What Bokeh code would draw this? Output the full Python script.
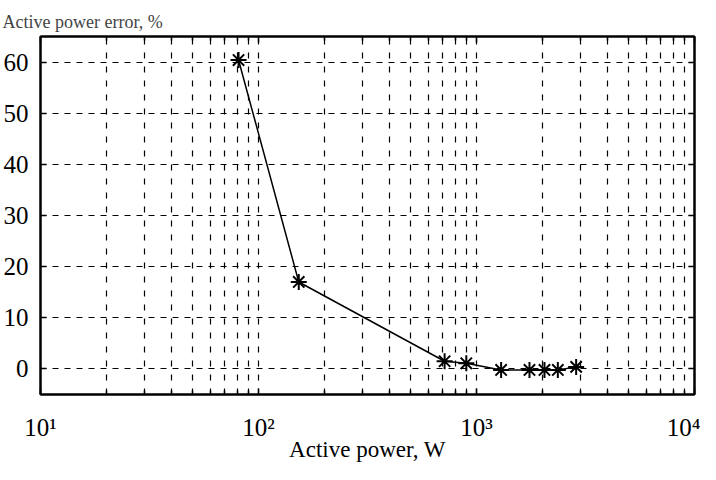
from bokeh.plotting import figure
from bokeh.models import FixedTicker, LinearAxis, LogAxis, Range1d
from bokeh.embed import file_html
from bokeh.resources import INLINE

# data
power_w = [81, 153, 714, 898, 1297, 1750, 2050, 2361, 2865]
error_pct = [60.4, 17.0, 1.5, 1.1, -0.2, -0.2, -0.2, -0.2, 0.4]

x_major = [10, 100, 1000, 10000]
x_minor = [m * d for d in (10, 100, 1000) for m in range(2, 10)]
x_labels = {10: "10¹", 100: "10²", 1000: "10³", 10000: "10⁴"}
y_major = [0, 10, 20, 30, 40, 50, 60]

FONT = "Liberation Serif"

p = figure(width=700, height=464, x_axis_type="log",
           x_range=Range1d(10, 10000), y_range=Range1d(-5, 65),
           output_backend="svg", toolbar_location=None,
           min_border_left=39, min_border_right=6,
           min_border_top=36, min_border_bottom=70)

p.title.text = "Active power error, %"
p.title.text_font = FONT
p.title.text_font_size = "18px"
p.title.text_font_style = "normal"
p.title.align = "left"
p.title.offset = -38

p.outline_line_color = "black"
p.outline_line_width = 2
p.background_fill_color = "white"
p.border_fill_color = "white"

xt = FixedTicker(ticks=x_major, minor_ticks=x_minor)
yt = FixedTicker(ticks=y_major)

bottom = p.below[0]
left = p.left[0]

bottom.ticker = xt
left.ticker = yt
bottom.major_label_overrides = x_labels
bottom.axis_label = "Active power, W"
bottom.axis_label_text_font = FONT
bottom.axis_label_text_font_size = "23px"
bottom.axis_label_text_font_style = "normal"
bottom.axis_label_text_color = "black"
bottom.axis_label_standoff = -7

top = LogAxis(ticker=xt)
right = LinearAxis(ticker=yt)
p.add_layout(top, "above")
p.add_layout(right, "right")

for ax in [bottom, left, top, right]:
    ax.axis_line_color = "black"
    ax.axis_line_width = 2
    ax.major_tick_line_color = "black"
    ax.major_tick_line_width = 1.5
    ax.major_tick_in = 6
    ax.major_tick_out = 0
    ax.minor_tick_line_color = "black"
    ax.minor_tick_line_width = 1.5
    ax.minor_tick_in = 4
    ax.minor_tick_out = 0
    ax.major_label_text_font = FONT
    ax.major_label_text_color = "black"

bottom.major_label_text_font_size = "25px"
bottom.major_label_standoff = 19
left.major_label_text_font_size = "25px"
left.major_label_standoff = 12
left.minor_tick_line_color = None
right.minor_tick_line_color = None
for ax in [top, right]:
    ax.major_label_text_font_size = "2px"
    ax.major_label_text_alpha = 0
    ax.major_label_standoff = 0

p.xgrid.grid_line_color = "black"
p.xgrid.grid_line_dash = "6 8"
p.xgrid.grid_line_width = 1.2
p.xgrid.minor_grid_line_color = "black"
p.xgrid.minor_grid_line_dash = "6 8"
p.xgrid.minor_grid_line_width = 1.2
p.ygrid.grid_line_color = "black"
p.ygrid.grid_line_dash = "6 6"
p.ygrid.grid_line_width = 1.2

p.line(power_w, error_pct, line_color="black", line_width=1.5)
p.scatter(power_w, error_pct, marker="asterisk", size=16,
          line_color="black", line_width=2)

open("out.html", "w").write(file_html(p, INLINE))
